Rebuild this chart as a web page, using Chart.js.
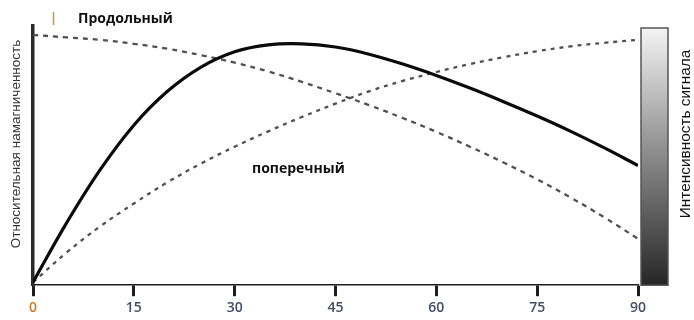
<!DOCTYPE html>
<html>
<head>
<meta charset="utf-8">
<script src="https://cdn.jsdelivr.net/npm/chart.js@4"></script>
<style>
  html, body { margin: 0; padding: 0; background: #ffffff; }
  #wrap { width: 694px; height: 320px; position: relative; }
</style>
</head>
<body>
<div id="wrap"><canvas id="c" width="694" height="320"></canvas></div>
<script>
// Flip angle, degrees
const angles = [0, 5, 10, 15, 20, 25, 30, 35, 40, 45, 50, 55, 60, 65, 70, 75, 80, 85, 90];
// Longitudinal magnetization (dashed, falling)
const longitudinal = [1.00, 0.99, 0.98, 0.964, 0.944, 0.918, 0.888, 0.852, 0.810, 0.764, 0.716, 0.664, 0.608, 0.548, 0.484, 0.416, 0.342, 0.262, 0.176];
// Transverse magnetization (dashed, rising)
const transverse = [0, 0.12, 0.226, 0.318, 0.404, 0.48, 0.548, 0.61, 0.668, 0.722, 0.772, 0.814, 0.85, 0.882, 0.91, 0.934, 0.954, 0.968, 0.98];
// Signal intensity (solid)
const signal = [0, 0.24, 0.455, 0.635, 0.772, 0.87, 0.932, 0.96, 0.964, 0.951, 0.922, 0.882, 0.836, 0.785, 0.73, 0.672, 0.61, 0.543, 0.472];
const xTicks = [0, 15, 30, 45, 60, 75, 90];

const pts = (arr) => arr.map((v, i) => ({ x: angles[i], y: v }));

const decor = {
  id: 'decor',
  afterDraw(chart) {
    const { ctx, chartArea: a } = chart;
    ctx.save();
    // grey colour bar to the right of the plot
    const bx = a.right + 3, bw = 27, by = a.top + 2, bh = a.bottom - a.top - 2;
    const g = ctx.createLinearGradient(0, by, 0, by + bh);
    g.addColorStop(0, '#f4f4f4');
    g.addColorStop(0.45, '#949494');
    g.addColorStop(1, '#262626');
    ctx.fillStyle = g;
    ctx.fillRect(bx, by, bw, bh);
    ctx.strokeStyle = '#555555';
    ctx.lineWidth = 1.5;
    ctx.strokeRect(bx, by, bw, bh);

    // right-hand caption
    ctx.fillStyle = '#111111';
    ctx.font = '15.4px "Liberation Sans", Arial, sans-serif';
    ctx.textAlign = 'center';
    ctx.textBaseline = 'middle';
    ctx.save();
    ctx.translate(686, 134);
    ctx.rotate(-Math.PI / 2);
    ctx.fillText('Интенсивность сигнала', 0, 0);
    ctx.restore();

    // left-hand caption
    ctx.save();
    ctx.font = '13.5px "Liberation Sans", Arial, sans-serif';
    ctx.fillStyle = '#333333';
    ctx.translate(16, 144);
    ctx.rotate(-Math.PI / 2);
    ctx.fillText('Относительная намагниченность', 0, 0);
    ctx.restore();

    // curve names
    ctx.font = 'bold 14px "Open Sans", Arial, sans-serif';
    ctx.fillStyle = '#111111';
    ctx.textAlign = 'left';
    ctx.fillText('Продольный', 78, 19);
    ctx.fillText('поперечный', 252, 169);

    // small orange mark
    ctx.strokeStyle = '#d39330';
    ctx.lineWidth = 1.5;
    ctx.beginPath();
    ctx.moveTo(53.5, 12);
    ctx.lineTo(53.5, 25);
    ctx.stroke();
    ctx.restore();
  }
};

new Chart(document.getElementById('c'), {
  type: 'line',
  data: {
    datasets: [
      {
        data: pts(signal),
        borderColor: '#0a0a0a',
        borderWidth: 3.2,
        pointRadius: 0,
        tension: 0.4
      },
      {
        data: pts(longitudinal),
        borderColor: '#505050',
        borderWidth: 2.3,
        borderDash: [5, 5],
        pointRadius: 0,
        tension: 0.4
      },
      {
        data: pts(transverse),
        borderColor: '#505050',
        borderWidth: 2.3,
        borderDash: [4, 5],
        pointRadius: 0,
        tension: 0.4
      }
    ]
  },
  options: {
    responsive: false,
    animation: false,
    events: [],
    layout: { padding: { left: 33, right: 56, top: 26, bottom: 1 } },
    plugins: { legend: { display: false }, tooltip: { enabled: false } },
    scales: {
      x: {
        type: 'linear',
        min: 0,
        max: 90,
        afterBuildTicks: (s) => { s.ticks = xTicks.map(v => ({ value: v })); },
        grid: { drawOnChartArea: false, drawTicks: true, tickLength: 11, tickWidth: 3, tickColor: '#1e1e1e' },
        border: { display: true, color: '#1e1e1e', width: 1.5 },
        ticks: {
          padding: 3,
          color: (c) => c.index === 0 ? '#c9792c' : '#454c66',
          font: { family: '"Open Sans", sans-serif', size: 14, weight: '600' }
        }
      },
      y: {
        type: 'linear',
        min: -0.012,
        max: 1.036,
        grid: { drawOnChartArea: false, drawTicks: false },
        border: { display: true, color: '#2a2a2a', width: 3.5 },
        ticks: { display: false }
      }
    }
  },
  plugins: [decor]
});
</script>
</body>
</html>
